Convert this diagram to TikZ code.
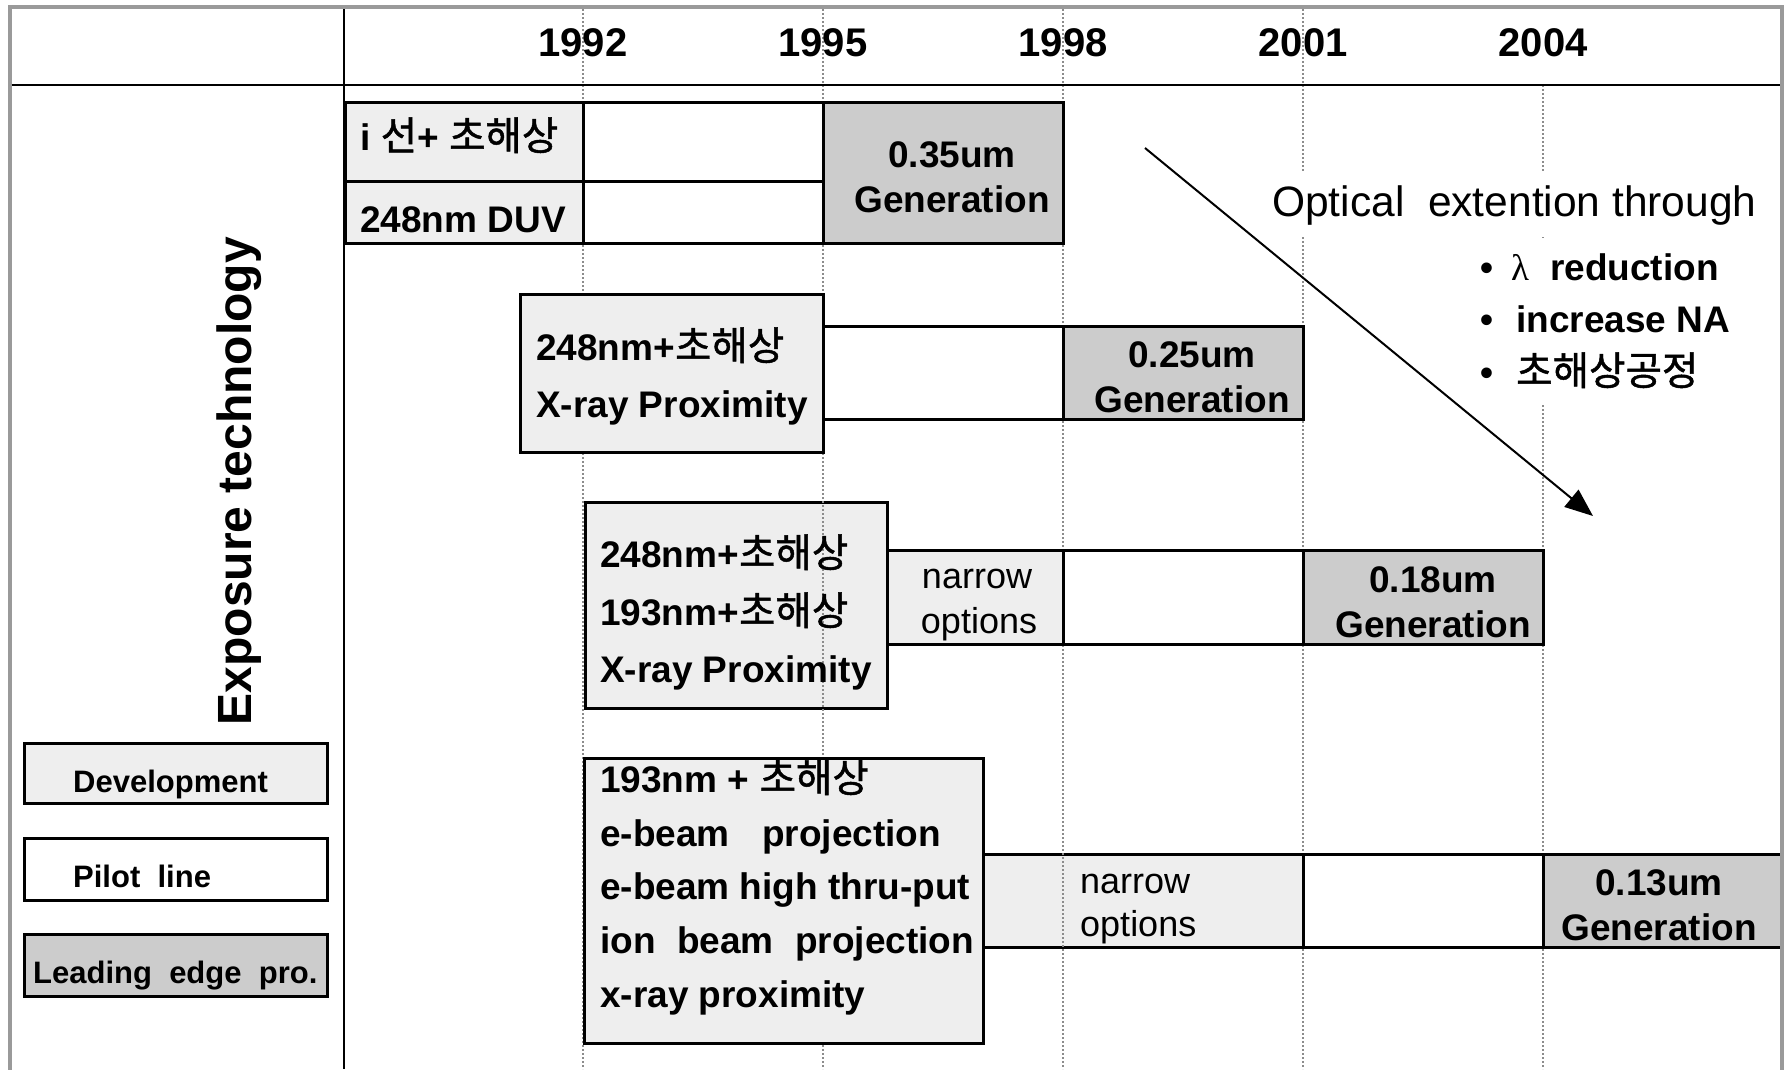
\documentclass[tikz,border=0pt]{standalone}
\usepackage{fontspec}
\setmainfont{Liberation Sans}
\newfontfamily\krfont{Noto Sans CJK KR}[Scale=1.07, FakeBold=1.2]
\newfontfamily\lamfont{Liberation Serif}
\usetikzlibrary{arrows.meta}
\definecolor{lightbox}{HTML}{EEEEEE}
\definecolor{midbox}{HTML}{CCCCCC}
\definecolor{framegray}{HTML}{9A9A9A}
\definecolor{dotgray}{HTML}{8C8C8C}
\newcommand{\kt}[1]{{\krfont\mdseries #1}}
\begin{document}
\begin{tikzpicture}[x=1pt,y=-1pt,
  devfill/.style={draw=black, line width=3pt, fill=lightbox},
  pilotfill/.style={draw=black, line width=3pt, fill=white},
  leadfill/.style={draw=black, line width=3pt, fill=midbox},
  yearline/.style={draw=dotgray, line width=1.6pt, dash pattern=on 2pt off 2pt},
  bt/.style={inner sep=0pt, anchor=base west, font=\fontsize{37}{45}\selectfont\bfseries},
  btc/.style={inner sep=0pt, anchor=base, font=\fontsize{37}{45}\selectfont\bfseries},
  rt/.style={inner sep=0pt, anchor=base west, font=\fontsize{36}{42}\selectfont},
  rtc/.style={inner sep=0pt, anchor=base, font=\fontsize{36}{42}\selectfont},
  yeartxt/.style={inner sep=0pt, anchor=base, font=\fontsize{40}{48}\selectfont\bfseries},
  legtxt/.style={inner sep=0pt, anchor=base west, font=\fontsize{31}{38}\selectfont\bfseries}]
\useasboundingbox (0,0) rectangle (1787,1069);
\fill[white] (0,0) rectangle (1787,1069);

% boxes lying under the year lines
\path[devfill] (585,502) rectangle (887,708);
\path[devfill] (983,854) rectangle (1303,947);

% year lines
\foreach \xx in {583,823,1063,1303} {\path[yearline] (\xx,9) -- (\xx,1069);}
\path[yearline] (1543,85) -- (1543,1069);

% row 1
\path[devfill] (345,102) rectangle (583,181);
\path[devfill] (345,181) rectangle (583,243);
\path[pilotfill] (583,102) rectangle (823,181);
\path[pilotfill] (583,181) rectangle (823,243);
\path[leadfill] (823,102) rectangle (1063,243);
% row 2
\path[devfill] (520,294) rectangle (823,452);
\path[pilotfill] (823,326) rectangle (1063,419);
\path[leadfill] (1063,326) rectangle (1303,419);
% row 3
\path[devfill] (887,550) rectangle (1063,644);
\path[pilotfill] (1063,550) rectangle (1303,644);
\path[leadfill] (1303,550) rectangle (1543,644);
% row 4
\path[devfill] (584,758) rectangle (983,1043);
\path[pilotfill] (1303,854) rectangle (1543,947);
\path[leadfill] (1543,854) rectangle (1782,947);
% legend
\path[devfill] (24,743) rectangle (327,803);
\path[pilotfill] (24,838) rectangle (327,900);
\path[leadfill] (24,934) rectangle (327,996);

% frame and grid lines
\draw[framegray, line width=4pt] (9.5,1075) -- (9.5,7) -- (1782,7) -- (1782,1075);
\draw[black, line width=2.5pt] (11.5,85) -- (1780,85);
\draw[black, line width=2.5pt] (344,9) -- (344,1069);

% years
\node[yeartxt] (y92) at (583,56) {1992};
\node[yeartxt] (y95) at (823,56) {1995};
\node[yeartxt] (y98) at (1063,56) {1998};
\node[yeartxt] (y01) at (1303,56) {2001};
\node[yeartxt] (y04) at (1543,56) {2004};

% side title
\node[rotate=90, anchor=base, inner sep=0pt, font=\fontsize{48}{56}\selectfont\bfseries] (expo) at (251,481) {Exposure technology};

% legend text
\node[legtxt] (legdev) at (73,792) {Development};
\node[legtxt] (legpil) at (73,887) {Pilot~ line};
\node[legtxt] (leglead) at (33,983) {Leading~ edge~ pro.};

% row 1 text
\node[bt] (r1a) at (360,150) {i \kt{선}+ \kt{초해상}};
\node[bt] (r1b) at (360,232) {248nm DUV};
\node[btc] (r1g1) at (952,167) {0.35um};
\node[btc] (r1g2) at (952,212) {Generation};
% row 2 text
\node[bt] (r2a) at (536,360) {248nm+\kt{초해상}};
\node[bt] (r2b) at (536,417) {X-ray Proximity};
\node[btc] (r2g1) at (1192,367) {0.25um};
\node[btc] (r2g2) at (1192,412) {Generation};
% row 3 text
\node[bt] (r3a) at (600,567) {248nm+\kt{초해상}};
\node[bt] (r3b) at (600,625) {193nm+\kt{초해상}};
\node[bt] (r3c) at (600,682) {X-ray Proximity};
\node[rtc] (r3n1) at (977,588) {narrow};
\node[rtc] (r3n2) at (979,633) {options};
\node[btc] (r3g1) at (1433,592) {0.18um};
\node[btc] (r3g2) at (1433,637) {Generation};
% row 4 text
\node[bt] (r4a) at (600,792) {193nm + \kt{초해상}};
\node[bt] (r4b) at (600,846) {e-beam\hspace{32.5pt}projection};
\node[bt] (r4c) at (600,899) {e-beam high thru-put};
\node[bt] (r4d) at (600,953) {ion\hspace{21.5pt}beam\hspace{21.5pt}projection};
\node[bt] (r4e) at (600,1007) {x-ray proximity};
\node[rt] (r4n1) at (1080,893) {narrow};
\node[rt] (r4n2) at (1080,936) {options};
\node[btc] (r4g1) at (1659,895) {0.13um};
\node[btc] (r4g2) at (1659,940) {Generation};

% optical extension note
\node[anchor=base west, fill=white, inner xsep=4pt, inner ysep=12pt, font=\fontsize{42.5}{50}\selectfont] (optical) at (1268,216) {Optical~ extention through};
\node[anchor=north west, fill=white, inner xsep=4pt, inner ysep=15pt, align=left, font=\fontsize{37}{52.5}\selectfont\bfseries] (bullets) at (1476,238)
  {\makebox[31pt][l]{•}{\lamfont\mdseries λ}\hspace{21pt}reduction\\
   \makebox[36pt][l]{•}increase NA\\
   \makebox[36pt][l]{•}\kt{초해상공정}};

% arrow
\coordinate (arrS) at (1145,148);
\coordinate (arrE) at (1593,516);
\draw[black, line width=2pt, -{Triangle[length=28pt,width=22pt]}] (arrS) -- (arrE);
\end{tikzpicture}
\end{document}
